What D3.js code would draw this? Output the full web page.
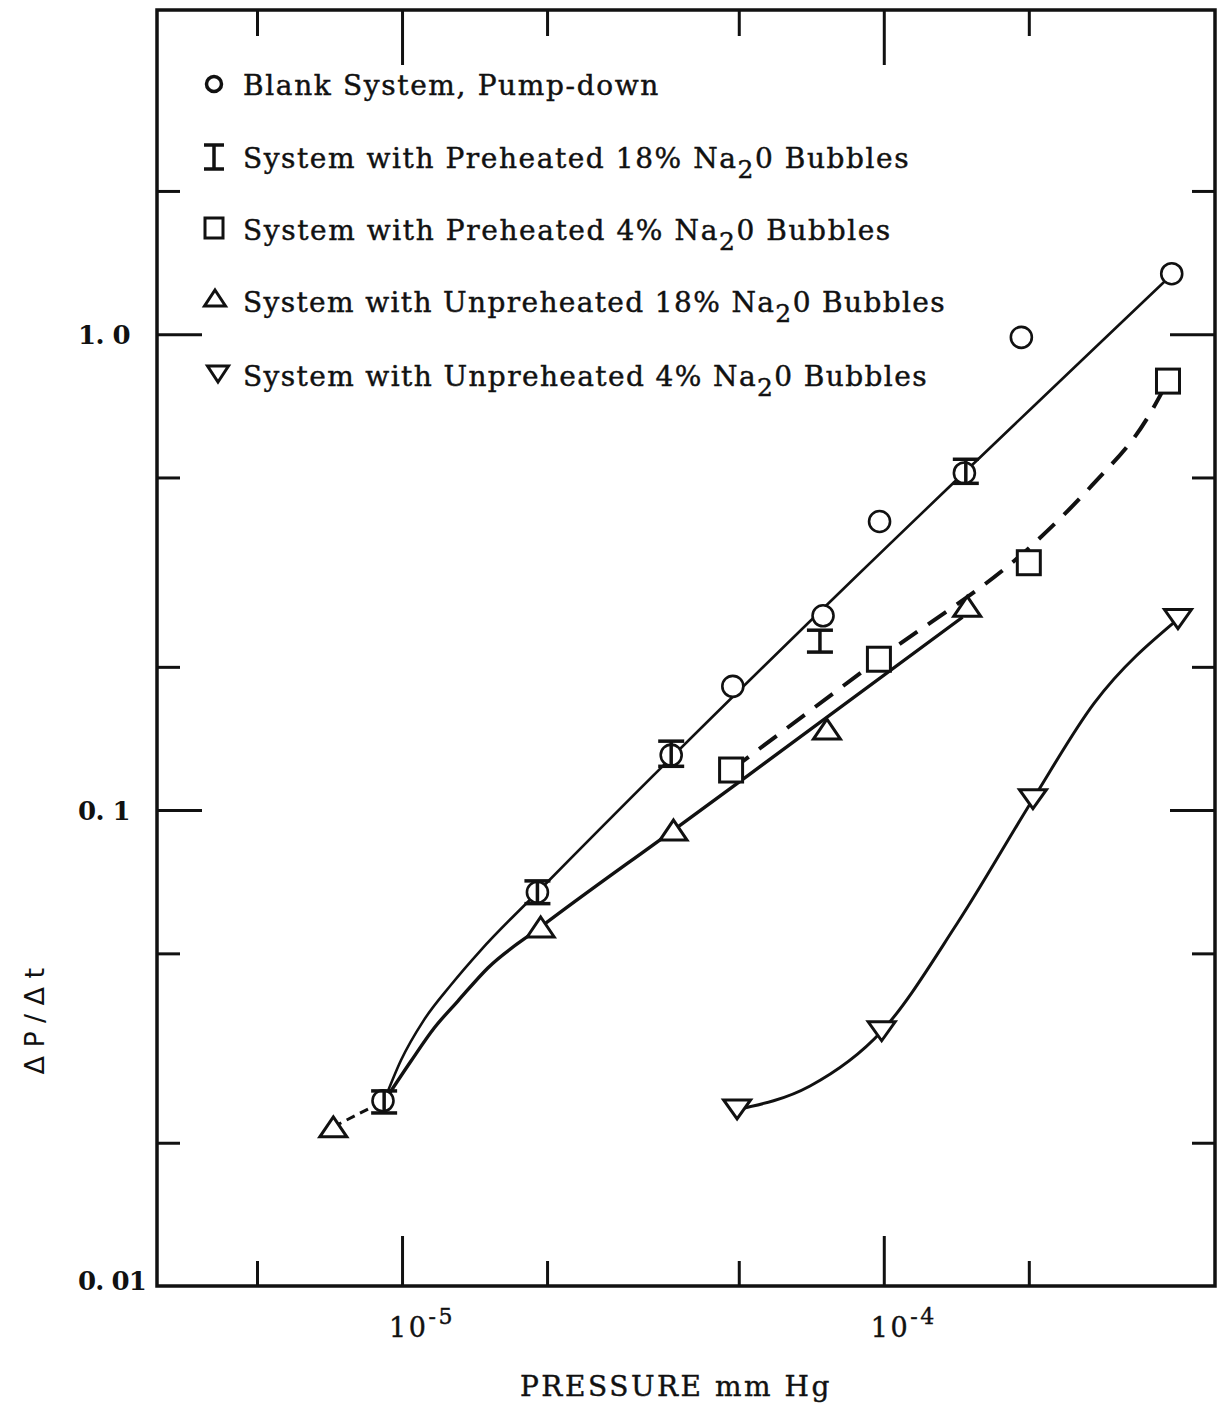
<!DOCTYPE html>
<html>
<head>
<meta charset="utf-8">
<script src="https://cdn.jsdelivr.net/npm/d3@7"></script>
<style>
  body { margin: 0; background: #fff; }
  svg { display: block; }
</style>
</head>
<body>
<div id="container"></div>
<script>
// values (pressure in mm Hg, dP/dt)
const blankX = [9.13e-6, 1.91e-5, 3.62e-5, 4.86e-5, 7.48e-5, 9.8e-5, 1.47e-4, 1.93e-4, 3.96e-4];
const blankY = [0.0245, 0.0672, 0.1305, 0.182, 0.256, 0.404, 0.511, 0.985, 1.34];

const pre18X = [9.18e-6, 1.91e-5, 3.62e-5, 7.37e-5, 1.48e-4];
const pre18Lo = [0.0231, 0.0636, 0.1236, 0.2148, 0.486];
const pre18Hi = [0.0257, 0.071, 0.1396, 0.2388, 0.546];

const pre4X = [4.82e-5, 9.77e-5, 2.0e-4, 3.89e-4];
const pre4Y = [0.1214, 0.2075, 0.331, 0.797];

const unpre18X = [7.2e-6, 1.94e-5, 3.66e-5, 7.62e-5, 1.49e-4];
const unpre18Y = [0.0216, 0.0568, 0.0908, 0.148, 0.268];

const unpre4X = [4.96e-5, 9.9e-5, 2.04e-4, 4.08e-4];
const unpre4Y = [0.0235, 0.0343, 0.1054, 0.252];

// hand-drawn fit curves
const blankFitX = [9.18e-6, 9.95e-6, 1.11e-5, 1.263e-5, 1.458e-5, 1.91e-5, 3.97e-4];
const blankFitY = [0.0245, 0.0298, 0.0362, 0.0429, 0.0508, 0.0672, 1.337];
const unpre18FitX = [9.27e-6, 1.044e-5, 1.165e-5, 1.306e-5, 1.507e-5, 1.94e-5, 3.66e-5, 5.205e-5, 1.457e-4];
const unpre18FitY = [0.0248, 0.0297, 0.0348, 0.0397, 0.0466, 0.0568, 0.0908, 0.1179, 0.2543];
const stubX = [7.2e-6, 9.18e-6];
const stubY = [0.0216, 0.0245];
const pre4FitX = [4.82e-5, 9.77e-5, 2.074e-4, 2.707e-4, 3.503e-4, 3.89e-4];
const pre4FitY = [0.1214, 0.2076, 0.3673, 0.4817, 0.6598, 0.797];
const unpre4FitX = [4.96e-5, 7.03e-5, 9.9e-5, 1.422e-4, 2.04e-4, 2.734e-4, 4.08e-4];
const unpre4FitY = [0.0235, 0.02632, 0.0343, 0.0579, 0.1054, 0.1678, 0.252];

// ticks
const xMajor = [1e-5, 1e-4];
const xMinor = [5e-6, 2e-5, 5e-5, 2e-4];
const xExp = ["-5", "-4"];
const yMajor = [0.1, 1];
const yMinor = [0.02, 0.05, 0.2, 0.5, 2];
const yLabelValues = [1, 0.1, 0.01];
const yLabelText = ["1. 0", "0. 1", "0. 01"];

const legendLabels = [
  ["Blank System, Pump-down"],
  ["System with Preheated 18% Na", "2", "0 Bubbles"],
  ["System with Preheated 4% Na", "2", "0 Bubbles"],
  ["System with Unpreheated 18% Na", "2", "0 Bubbles"],
  ["System with Unpreheated 4% Na", "2", "0 Bubbles"],
];
const legendWidths = [417, 667, 649, 703, 685];

const width = 1219;
const height = 1405;
const frame = { left: 157, right: 1215, top: 10, bottom: 1286 };
const serif = "'DejaVu Serif', serif";

const svg = d3
  .select("#container")
  .append("svg")
  .attr("width", width)
  .attr("height", height);

const x = d3.scaleLog().domain([3.1e-6, 4.87e-4]).range([frame.left, frame.right]);
const y = d3.scaleLog().domain([0.01, 4.8]).range([frame.bottom, frame.top]);

// spread text to a target width with letter spacing
function fitText(sel, target) {
  const n = sel.text().length;
  const w = sel.node().getComputedTextLength();
  sel.attr("letter-spacing", ((target - w) / n).toFixed(2));
}

// ticks, all pointing inward
function tickAxis(axis, values, size, transform) {
  const g = svg
    .append("g")
    .attr("transform", transform)
    .call(axis.tickValues(values).tickSizeInner(-size).tickSizeOuter(0).tickFormat(""));
  g.select(".domain").remove();
  g.selectAll(".tick line").attr("stroke", "#111").attr("stroke-width", 3);
}
tickAxis(d3.axisBottom(x), xMajor, 50, `translate(0,${frame.bottom})`);
tickAxis(d3.axisBottom(x), xMinor, 25, `translate(0,${frame.bottom})`);
tickAxis(d3.axisTop(x), xMajor, 55, `translate(0,${frame.top})`);
tickAxis(d3.axisTop(x), xMinor, 26, `translate(0,${frame.top})`);
tickAxis(d3.axisLeft(y), yMajor, 45, `translate(${frame.left},0)`);
tickAxis(d3.axisLeft(y), yMinor, 23, `translate(${frame.left},0)`);
tickAxis(d3.axisRight(y), yMajor, 45, `translate(${frame.right},0)`);
tickAxis(d3.axisRight(y), yMinor, 23, `translate(${frame.right},0)`);

svg
  .append("rect")
  .attr("x", frame.left)
  .attr("y", frame.top)
  .attr("width", frame.right - frame.left)
  .attr("height", frame.bottom - frame.top)
  .attr("fill", "none")
  .attr("stroke", "#111")
  .attr("stroke-width", 3.5);

// y tick labels
yLabelValues.forEach((v, i) => {
  const t = svg
    .append("text")
    .attr("x", 78)
    .attr("y", y(v) + (v === 0.01 ? 4 : 10))
    .attr("font-family", serif)
    .attr("font-weight", "bold")
    .attr("font-size", 26)
    .attr("fill", "#111")
    .text(yLabelText[i]);
  fitText(t, v === 0.01 ? 68 : 52);
});

// x tick labels: 10 with superscript exponent
xMajor.forEach((v, i) => {
  const t = svg
    .append("text")
    .attr("x", x(v) - 13)
    .attr("y", 1337)
    .attr("font-family", serif)
    .attr("font-size", 27)
    .attr("fill", "#111")
    .attr("stroke", "#111")
    .attr("stroke-width", 0.4);
  t.append("tspan").text("10");
  t.append("tspan").attr("dy", -13).attr("font-size", 22).text(xExp[i]);
  fitText(t, 66);
});

// axis titles
const xTitle = svg
  .append("text")
  .attr("x", 520)
  .attr("y", 1396)
  .attr("font-family", serif)
  .attr("font-size", 28)
  .attr("fill", "#111")
  .attr("stroke", "#111")
  .attr("stroke-width", 0.4)
  .text("PRESSURE mm Hg");
fitText(xTitle, 312);

const yTitle = svg
  .append("text")
  .attr("transform", "translate(44,1017) rotate(-90)")
  .attr("text-anchor", "middle")
  .attr("font-family", "'DejaVu Sans', sans-serif")
  .attr("font-size", 27)
  .attr("fill", "#111")
  .text("ΔP/Δt");
fitText(yTitle, 115);

// lines
const line = d3
  .line()
  .x((d) => x(d[0]))
  .y((d) => y(d[1]))
  .curve(d3.curveMonotoneX);

function drawLine(xs, ys, w, dash) {
  svg
    .append("path")
    .attr("d", line(d3.zip(xs, ys)))
    .attr("fill", "none")
    .attr("stroke", "#111")
    .attr("stroke-width", w)
    .attr("stroke-dasharray", dash)
    .attr("stroke-linecap", "butt");
}
drawLine(blankFitX, blankFitY, 2.6, null);
drawLine(unpre18FitX, unpre18FitY, 3.4, null);
drawLine(stubX, stubY, 3, "9,6");
drawLine(pre4FitX, pre4FitY, 4, "22,13");
drawLine(unpre4FitX, unpre4FitY, 3, null);

// markers
const triUp = (w, h) => `M0,${-h / 2}L${w / 2},${h / 2}L${-w / 2},${h / 2}Z`;
const triDown = (w, h) => `M0,${h / 2}L${w / 2},${-h / 2}L${-w / 2},${-h / 2}Z`;

function iBar(g, half, cap, w) {
  g.append("line").attr("y1", -half).attr("y2", half);
  g.append("line").attr("x1", -cap).attr("x2", cap).attr("y1", -half).attr("y2", -half);
  g.append("line").attr("x1", -cap).attr("x2", cap).attr("y1", half).attr("y2", half);
  g.selectAll("line").attr("stroke", "#111").attr("stroke-width", w);
}

const marks = svg.append("g").attr("fill", "#fff").attr("stroke", "#111");

marks
  .selectAll("circle")
  .data(d3.zip(blankX, blankY))
  .join("circle")
  .attr("cx", (d) => x(d[0]))
  .attr("cy", (d) => y(d[1]))
  .attr("r", 10.5)
  .attr("stroke-width", 2.6);

marks
  .selectAll("rect")
  .data(d3.zip(pre4X, pre4Y))
  .join("rect")
  .attr("x", (d) => x(d[0]) - 11.5)
  .attr("y", (d) => y(d[1]) - 12)
  .attr("width", 23)
  .attr("height", 24)
  .attr("stroke-width", 3);

marks
  .selectAll("path.up")
  .data(d3.zip(unpre18X, unpre18Y))
  .join("path")
  .attr("class", "up")
  .attr("transform", (d) => `translate(${x(d[0])},${y(d[1])})`)
  .attr("d", triUp(27, 20))
  .attr("stroke-width", 3)
  .attr("stroke-linejoin", "miter");

marks
  .selectAll("path.down")
  .data(d3.zip(unpre4X, unpre4Y))
  .join("path")
  .attr("class", "down")
  .attr("transform", (d) => `translate(${x(d[0])},${y(d[1])})`)
  .attr("d", triDown(27, 19))
  .attr("stroke-width", 3)
  .attr("stroke-linejoin", "miter");

// error bars for preheated 18%
d3.range(pre18X.length).forEach((i) => {
  const top = y(pre18Hi[i]);
  const bot = y(pre18Lo[i]);
  const g = svg
    .append("g")
    .attr("transform", `translate(${x(pre18X[i])},${(top + bot) / 2})`);
  iBar(g, (bot - top) / 2, 13, 3.5);
});

// legend
const legendY = [95, 168, 240, 312, 386];
legendLabels.forEach((parts, i) => {
  const t = svg
    .append("text")
    .attr("x", 243)
    .attr("y", legendY[i])
    .attr("font-family", serif)
    .attr("font-size", 28)
    .attr("fill", "#111")
    .attr("stroke", "#111")
    .attr("stroke-width", 0.45);
  t.append("tspan").text(parts[0]);
  if (parts.length > 1) {
    t.append("tspan").attr("dy", 10).attr("font-size", 25).text(parts[1]);
    t.append("tspan").attr("dy", -10).text(parts[2]);
  }
  fitText(t, legendWidths[i]);
});

const lg = svg.append("g").attr("fill", "#fff").attr("stroke", "#111");
lg.append("circle").attr("cx", 214).attr("cy", 84).attr("r", 7.5).attr("stroke-width", 3.5);
iBar(svg.append("g").attr("transform", "translate(214,157)"), 12, 10, 3.5);
lg.append("rect").attr("x", 205).attr("y", 218).attr("width", 18).attr("height", 20).attr("stroke-width", 3);
lg.append("path").attr("transform", "translate(215,298)").attr("d", triUp(21, 16)).attr("stroke-width", 3);
lg.append("path").attr("transform", "translate(218,374)").attr("d", triDown(21, 16)).attr("stroke-width", 3);
</script>
</body>
</html>
